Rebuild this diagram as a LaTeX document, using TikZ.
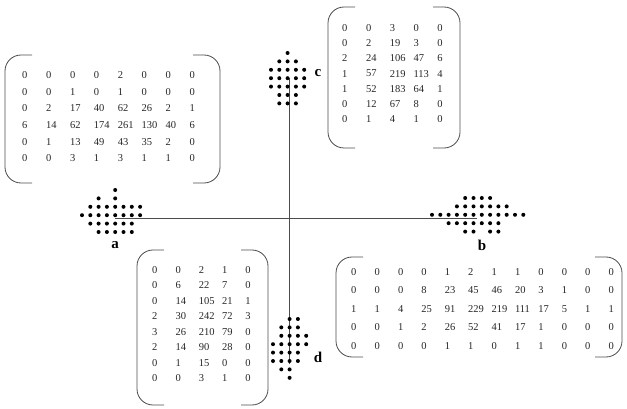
\documentclass[tikz,border=0pt]{standalone}
\usepackage{fontspec}
\setmainfont{Liberation Serif}
\begin{document}
\begin{tikzpicture}[x=1pt,y=-1pt,
  num/.style={anchor=west,inner sep=0pt,font=\fontsize{10.5}{12}\selectfont,text=black!85},
  lbl/.style={inner sep=0pt,font=\fontsize{15}{17}\selectfont\bfseries},
  paren/.style={draw=black!70,line width=0.8pt,rounded corners=16pt},
  axis/.style={draw=black!70,line width=0.8pt},
  dotc/.style={fill=black}]
\useasboundingbox (0,0) rectangle (627,409);
% parentheses helper: left edge x, right edge x, top, bottom
\newcommand{\parenpair}[4]{%
  \draw[paren] ({#1+27},#3) -- (#1,#3) -- (#1,#4) -- ({#1+27},#4);
  \draw[paren] ({#2-27},#3) -- (#2,#3) -- (#2,#4) -- ({#2-27},#4);}
% matrix helper: x0, y0, dx, dy, name, rows
\newcommand{\mymatrix}[6]{%
  \foreach \row [count=\j] in {#6} {
    \foreach \v [count=\i] in \row {
      \node[num] (#5-\j-\i) at ({#1+(\i-1)*#3},{#2+(\j-1)*#4}) {\v};
    }
  }}
% dot cluster helper: x0, y0, rows of 0/1
\newcommand{\mydots}[3]{%
  \foreach \row [count=\j] in {#3} {
    \foreach \v [count=\i] in \row {
      \ifnum\v=1 \fill[dotc] ({#1+(\i-1)*8.3},{#2+(\j-1)*8.4}) circle (2.0);\fi
    }
  }}

% axes
\coordinate (ha) at (115,218);
\coordinate (hb) at (477,218);
\coordinate (vc) at (289,78);
\coordinate (vd) at (289,364);
\draw[axis] (ha) -- (hb);
\draw[axis] (vc) -- (vd);

% dot clusters
\mydots{82}{190}{{0,0,0,0,1,0,0,0},{0,0,1,0,1,0,0,0},{0,1,1,1,1,1,1,1},{1,1,1,1,1,1,1,1},{0,1,1,1,1,1,1,0},{0,0,1,1,1,1,1,0}}
\mydots{432}{198}{{0,0,0,0,1,1,1,1,0,0,0,0},{0,0,0,1,1,1,1,1,1,1,0,0},{1,1,1,1,1,1,1,1,1,1,1,1},{0,0,1,1,1,1,1,1,1,0,0,0},{0,0,0,0,1,1,0,1,1,0,0,0}}
\mydots{271}{53}{{0,0,1,0,0},{0,1,1,1,0},{1,1,1,1,1},{1,1,1,1,1},{1,1,1,1,1},{0,1,1,1,0},{0,1,1,1,0}}
\mydots{273}{319}{{0,0,1,1,0},{0,1,1,1,0},{0,1,1,1,1},{1,1,1,1,1},{1,1,1,1,0},{1,1,1,1,0},{0,1,1,0,0},{0,0,1,0,0}}

% labels
\node[lbl] (la) at (115,245) {a};
\node[lbl] (lb) at (482,245) {b};
\node[lbl] (lc) at (318,73) {c};
\node[lbl] (ld) at (318,357) {d};

% matrix a
\parenpair{5}{220}{55}{183}
\mymatrix{22}{75}{23.9}{16.7}{ma}{{0,0,0,0,2,0,0,0},{0,0,1,0,1,0,0,0},{0,2,17,40,62,26,2,1},{6,14,62,174,261,130,40,6},{0,1,13,49,43,35,2,0},{0,0,3,1,3,1,1,0}}

% matrix c
\parenpair{328}{460}{7}{148}
\mymatrix{342}{28}{23.8}{15.2}{mc}{{0,0,3,0,0},{0,2,19,3,0},{2,24,106,47,6},{1,57,219,113,4},{1,52,183,64,1},{0,12,67,8,0},{0,1,4,1,0}}

% matrix d
\parenpair{137}{268}{250}{405}
\mymatrix{152}{270}{23.3}{15.5}{md}{{0,0,2,1,0},{0,6,22,7,0},{0,14,105,21,1},{2,30,242,72,3},{3,26,210,79,0},{2,14,90,28,0},{0,1,15,0,0},{0,0,3,1,0}}

% matrix b
\parenpair{336}{622}{257}{357}
\mymatrix{351}{272}{23.4}{18.5}{mb}{{0,0,0,0,1,2,1,1,0,0,0,0},{0,0,0,8,23,45,46,20,3,1,0,0},{1,1,4,25,91,229,219,111,17,5,1,1},{0,0,1,2,26,52,41,17,1,0,0,0},{0,0,0,0,1,1,0,1,1,0,0,0}}
\end{tikzpicture}
\end{document}
